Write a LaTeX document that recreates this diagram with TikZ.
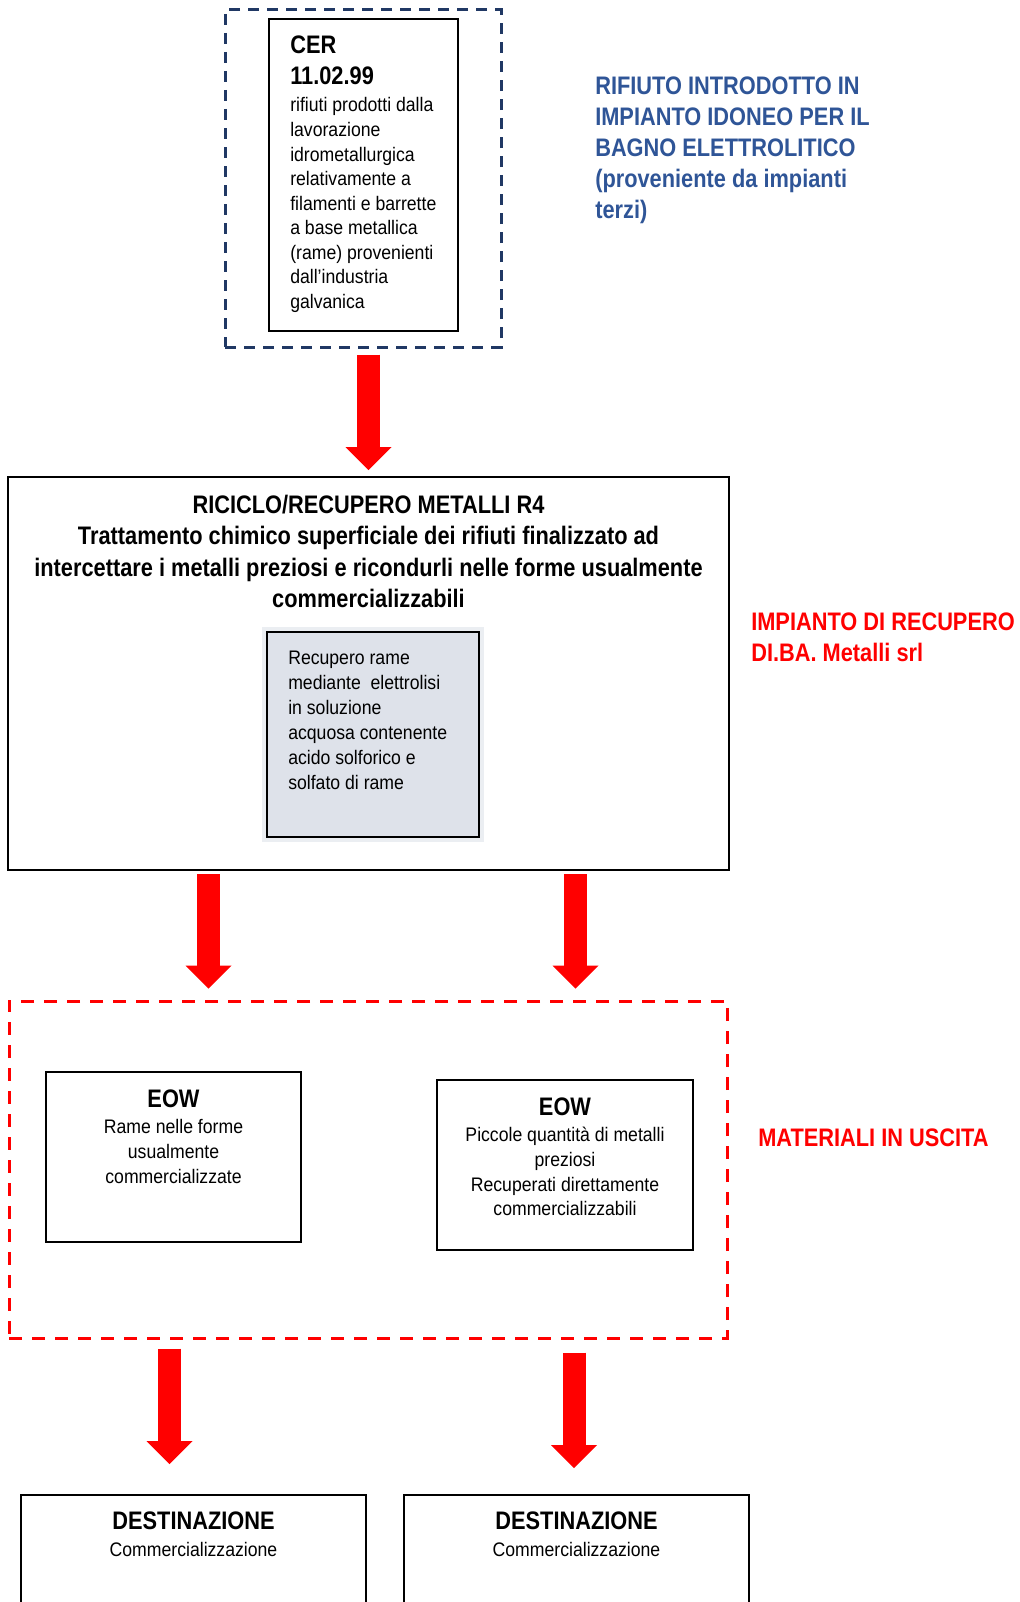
\documentclass[tikz,border=0pt]{standalone}
\usepackage{fontspec}
\setmainfont[FakeStretch=0.9]{Liberation Sans}
\newfontfamily\hdfamily[FakeStretch=0.86]{Liberation Sans}
\usetikzlibrary{arrows.meta, positioning, calc, fit}
\definecolor{cnavy}{HTML}{203864}
\definecolor{cblue}{HTML}{2F5597}
\definecolor{cred}{HTML}{FF0000}
\definecolor{cproc}{HTML}{DEE2EA}
\newcommand{\hdfont}{\hdfamily\fontsize{19}{22.5}\selectfont\bfseries}
\newcommand{\bdfont}{\fontsize{14.7}{18.4}\selectfont}
\tikzset{
  box/.style={draw=black, line width=1.5pt, inner sep=0pt},
  procbox/.style={box, fill=cproc, preaction={draw=cproc!60!white, line width=8pt}},
  inframe/.style={draw=cnavy, line width=2.25pt, dash pattern=on 8.25pt off 6pt, inner sep=0pt},
  outframe/.style={draw=cred, line width=2.25pt, dash pattern=on 9.75pt off 7.5pt, inner sep=0pt},
  bigarrow/.style={draw=cred, line width=17.25pt, -{Triangle[length=17.25pt, width=34.5pt, line width=0pt]}},
  txt/.style={inner sep=0pt, font=\bdfont},
  hd/.style={inner sep=0pt, font=\hdfamily\fontsize{19}{23.2}\selectfont\bfseries, align=left, anchor=north west},
}

\begin{document}
\begin{tikzpicture}[x=0.75pt, y=-0.75pt]
  \useasboundingbox (0,0) rectangle (1020,1602);
  % input waste
  \node[inframe, fit={(225,10) (501,347)}] (inbox) {};
  \node[box, fit={(269,19) (458,331)}] (cer) {};
  \node[txt, align=left, anchor=north west] (certext) at (290,36)
    {{\hdfont CER}\\[4.2pt]{\hdfont 11.02.99}\\[2.5pt]rifiuti prodotti dalla\\lavorazione\\idrometallurgica\\relativamente a\\filamenti e barrette\\a base metallica\\(rame) provenienti\\dall’industria\\galvanica};
  \node[hd, text=cblue] (inlabel) at (595,77)
    {RIFIUTO INTRODOTTO IN\\IMPIANTO IDONEO PER IL\\BAGNO ELETTROLITICO\\(proveniente da impianti\\terzi)};
  % recovery plant
  \node[box, fit={(8,477) (729,870)}] (main) {};
  \node[inner sep=0pt, align=center, anchor=north, font=\hdfamily\fontsize{19}{23.5}\selectfont\bfseries] (maintext) at (368.5,495)
    {RICICLO/RECUPERO METALLI R4\\Trattamento chimico superficiale dei rifiuti finalizzato ad\\intercettare i metalli preziosi e ricondurli nelle forme usualmente\\commercializzabili};
  \node[procbox, fit={(267,632) (479,837)}] (proc) {};
  \node[txt, align=left, anchor=north west, font=\fontsize{14.7}{18.75}\selectfont] (proctext) at (288,651)
    {Recupero rame\\mediante\ \ elettrolisi\\in soluzione\\acquosa contenente\\acido solforico e\\solfato di rame};
  \node[hd, text=cred] (plantlabel) at (751,613) {IMPIANTO DI RECUPERO\\DI.BA. Metalli srl};
  % output materials
  \node[outframe, fit={(9,1001) (727,1338)}] (out) {};
  \node[box, fit={(46,1072) (301,1242)}] (eowA) {};
  \node[box, fit={(437,1080) (693,1250)}] (eowB) {};
  \node[txt, align=center, anchor=north] (eowAtext) at (173.5,1090)
    {{\hdfont EOW}\\[1.1pt]Rame nelle forme\\usualmente\\commercializzate};
  \node[txt, align=center, anchor=north] (eowBtext) at (565,1098)
    {{\hdfont EOW}\\[1.1pt]Piccole quantità di metalli\\preziosi\\Recuperati direttamente\\commercializzabili};
  \node[hd, text=cred] (outlabel) at (758,1129) {MATERIALI IN USCITA};
  % destinations
  \node[box, fit={(21,1495) (366,1640)}] (destA) {};
  \node[box, fit={(404,1495) (749,1640)}] (destB) {};
  \node[txt, align=center, anchor=north] (destAtext) at (193.5,1512)
    {{\hdfont DESTINAZIONE}\\[1.75pt]Commercializzazione};
  \node[txt, align=center, anchor=north] (destBtext) at (576.5,1512)
    {{\hdfont DESTINAZIONE}\\[1.75pt]Commercializzazione};
  % arrows
  \draw[bigarrow] ($(main.north |- inbox.south)+(0,6)$) -- ($(main.north)+(0,-6)$);
  \draw[bigarrow] ($(main.south)+(-160,3)$) -- ($(main.south |- out.north)+(-160,-11)$);
  \draw[bigarrow] ($(main.south)+(207,3)$) -- ($(main.south |- out.north)+(207,-11)$);
  \draw[bigarrow] ($(destA.north |- out.south)+(-24,9)$) -- ($(destA.north)+(-24,-30)$);
  \draw[bigarrow] ($(destB.north |- out.south)+(-2.5,13)$) -- ($(destB.north)+(-2.5,-26)$);
\end{tikzpicture}
\end{document}
